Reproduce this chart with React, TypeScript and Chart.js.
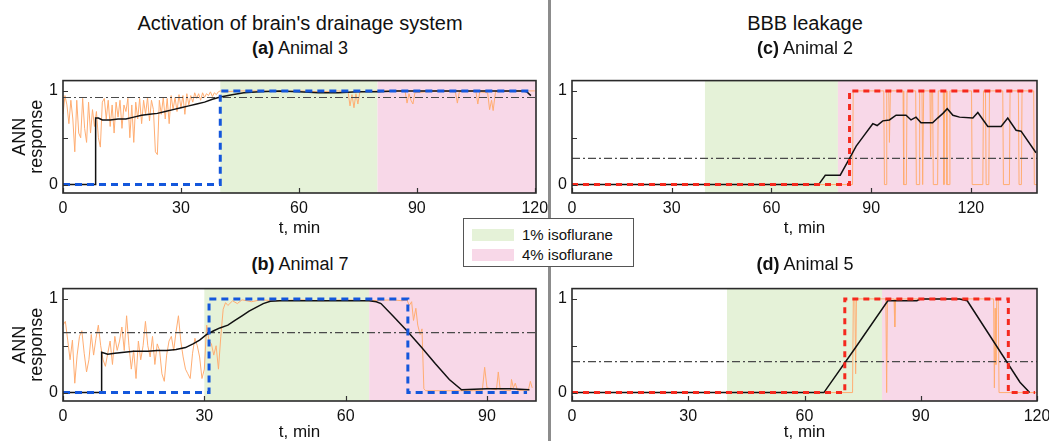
import React, { useEffect, useRef } from "react";
import { Chart, registerables } from "chart.js";

Chart.register(...registerables);

const FONT = "'Liberation Sans', Arial, sans-serif";
Chart.defaults.font.family = FONT;
Chart.defaults.color = "#111";

// ---------- shared ----------
const xTicks = [0, 30, 60, 90, 120];
const yTicks = [0, 0.5, 1];
const yLabelValues = [0, 1];
const Y_MIN = -0.09;
const Y_MAX = 1.11;
const RAW_DT = 0.5;

const GREEN = "#e5f2d8";
const PINK = "#f8d8e8";
const ORANGE = "#ffad72";
const BLACK = "#111111";
const THRESH = "#4a4a4a";
const BLUE = "#1457dc";
const RED = "#f5291e";

const legendLabels = ["1% isoflurane", "4% isoflurane"];
const legendColors = [GREEN, PINK];

// ---------- panel (a) Animal 3 ----------
const aXMax = 120.3;
const aIso1 = [40, 80];
const aIso4 = [80, 121];
const aThreshold = 0.93;
const aStep: number[][] = [[0, 0], [40, 0], [40, 1], [119, 1]];
const aSmooth: number[][] = [
  [0, 0], [8.3, 0], [8.3, 0.71], [9, 0.71], [10, 0.69], [12, 0.69], [14, 0.7], [16, 0.7],
  [18, 0.72], [20, 0.74], [22, 0.75], [24, 0.76], [26, 0.78], [28, 0.8], [30, 0.82],
  [32, 0.84], [34, 0.86], [36, 0.88], [38, 0.91], [40, 0.935], [43, 0.96], [46, 0.98],
  [50, 0.99], [55, 1.0], [60, 0.99], [65, 0.98], [70, 0.98], [75, 0.99], [80, 0.99],
  [85, 1.0], [100, 1.0], [117, 1.0], [118, 0.99], [119, 0.95],
];
const aRawHead = [
  0.75, 0.95, 0.85, 0.65, 0.9, 0.7, 0.35, 0.9, 0.55, 0.5,
  0.92, 0.6, 0.45, 0.88, 0.55, 0.8, 0.62, 0.78, 0.5, 0.4,
  0.88, 0.92, 0.7, 0.9, 0.62, 0.85, 0.55, 0.88, 0.72, 0.9,
  0.6, 0.85, 0.78, 0.92, 0.5, 0.85, 0.45, 0.88, 0.7, 0.92,
  0.65, 0.9, 0.75, 0.93, 0.68, 0.9, 0.8, 0.35, 0.32, 0.9,
  0.75, 0.93, 0.7, 0.92, 0.65, 0.95, 0.8, 0.93, 0.78, 0.96,
  0.82, 0.95, 0.75, 0.97, 0.85, 0.95, 0.88, 0.98, 0.92, 0.97,
  0.9, 0.98, 0.93, 0.97, 0.95, 0.99, 0.94, 0.98, 0.96, 0.99, 1.0,
];
const aRawTail: number[][] = [
  [41, 0.99], [45, 1.0], [50, 1.0], [55, 0.99], [60, 1.0], [65, 0.99], [70, 1.0], [72.5, 0.99],
  [73, 0.84], [73.5, 0.96], [74, 0.82], [74.5, 0.97], [75, 0.86], [75.5, 0.99], [80, 1.0],
  [87, 1.0], [87.5, 0.87], [88, 0.97], [88.5, 0.9], [89, 0.86], [89.5, 0.98], [95, 1.0],
  [99.8, 0.99], [100.3, 0.87], [100.8, 0.99], [105, 1.0], [105.5, 0.86], [106, 0.99],
  [108, 0.98], [108.5, 0.8], [109, 0.9], [109.4, 0.79], [110, 0.99], [115, 1.0], [120, 1.0],
];

// ---------- panel (b) Animal 7 ----------
const bXMax = 100.4;
const bIso1 = [30, 65];
const bIso4 = [65, 101];
const bThreshold = 0.64;
const bStep: number[][] = [[0, 0], [31, 0], [31, 1], [73.2, 1], [73.2, 0], [98.5, 0]];
const bSmooth: number[][] = [
  [0, 0], [8.2, 0], [8.2, 0.43], [9.5, 0.41], [11, 0.42], [13, 0.43], [15, 0.44], [18, 0.44],
  [20, 0.45], [22, 0.45], [24, 0.46], [26, 0.48], [27.6, 0.52], [29, 0.56], [30.5, 0.62],
  [32, 0.66], [33.3, 0.69], [35, 0.72], [36.5, 0.77], [38, 0.82], [39.5, 0.87], [41, 0.91],
  [42.5, 0.95], [44, 0.975], [46, 0.98], [65, 0.98], [66.5, 0.97], [67.5, 0.95], [70, 0.82],
  [73, 0.66], [76, 0.49], [79, 0.31], [82, 0.14], [84.6, 0.03], [90, 0.04], [95, 0.04], [99, 0.03],
];
const bRawHead = [
  0.72, 0.76, 0.56, 0.35, 0.56, 0.1, 0.4, 0.6, 0.66, 0.42,
  0.22, 0.35, 0.62, 0.4, 0.58, 0.72, 0.5, 0.35, 0.28, 0.42,
  0.55, 0.3, 0.6, 0.45, 0.55, 0.7, 0.45, 0.82, 0.5, 0.25,
  0.45, 0.15, 0.55, 0.35, 0.5, 0.76, 0.5, 0.38, 0.6, 0.3,
  0.52, 0.45, 0.2, 0.12, 0.4, 0.55, 0.6, 0.45, 0.65, 0.82,
  0.55, 0.38, 0.25, 0.2, 0.15, 0.42, 0.58, 0.5, 0.38, 0.15,
  0.25, 0.72, 0.55, 0.52, 0.4, 0.5, 0.25, 0.6, 0.89,
];
const bRawTail: number[][] = [
  [34.5, 0.96], [35, 0.93], [36, 0.98], [37, 0.95], [38, 0.99], [40, 0.97], [42, 0.99],
  [45, 0.98], [50, 0.99], [55, 0.98], [60, 0.99], [65, 0.98], [70, 0.99], [72, 0.98],
  [73, 0.99], [73.5, 0.93], [74, 0.97], [74.4, 0.77], [74.9, 0.9], [75.3, 0.72], [75.8, 0.62],
  [76.2, 0.68], [76.6, 0.04], [77, 0.02], [80, 0.02], [85, 0.02], [89, 0.02], [89.5, 0.27],
  [90, 0.05], [92, 0.03], [92.4, 0.22], [92.8, 0.03], [95, 0.02], [95.2, 0.14], [95.6, 0.05],
  [96, 0.1], [96.5, 0.02], [98.8, 0.03], [99.2, 0.12], [99.6, 0.05],
];

// ---------- panel (c) Animal 2 ----------
const cXMax = 139.9;
const cIso1 = [40, 80];
const cIso4 = [80, 141];
const cThreshold = 0.28;
const cStep: number[][] = [[0, 0], [83.5, 0], [83.5, 1], [138.5, 1]];
const cSmooth: number[][] = [
  [0, 0], [74.2, 0], [76.2, 0.1], [80.7, 0.1], [83.5, 0.28], [85.5, 0.41], [88, 0.53],
  [90.5, 0.65], [91.8, 0.63], [93.5, 0.68], [95.5, 0.69], [97.5, 0.74], [100.5, 0.74],
  [102, 0.69], [103.5, 0.72], [105, 0.66], [108.5, 0.66], [110, 0.71], [111.6, 0.76],
  [112.9, 0.81], [114.6, 0.74], [116.6, 0.72], [120.6, 0.71], [122.1, 0.77], [125.1, 0.62],
  [129.1, 0.62], [131.1, 0.71], [133.6, 0.58], [135.1, 0.57], [139.6, 0.34],
];
const cRaw: number[][] = [
  [0, 0], [84.4, 0], [84.6, 1], [93.8, 1], [94, 0], [94.5, 0], [94.7, 1], [95.3, 1],
  [95.5, 0.45], [95.8, 1], [99.6, 1], [99.8, 0], [100.6, 0], [100.8, 1], [103.4, 1],
  [103.6, 0], [104.4, 0], [104.6, 1], [105.3, 1], [105.5, 0], [105.8, 1], [107.7, 1],
  [107.9, 0.3], [108.1, 1], [108.5, 1], [108.7, 0], [110, 0], [110.2, 1], [111.7, 1],
  [111.9, 0], [112.1, 1], [112.6, 1], [112.8, 0], [113.5, 0], [113.7, 1], [120.2, 1],
  [120.4, 0], [123.6, 0], [123.8, 1], [124.4, 1], [124.6, 0], [125.4, 0], [125.6, 1],
  [129.6, 1], [129.8, 0], [131.6, 0], [131.8, 1], [134.3, 1], [134.5, 0], [135.2, 0],
  [135.4, 1], [138.9, 1], [139.1, 0], [139.9, 0],
];

// ---------- panel (d) Animal 5 ----------
const dXMax = 120;
const dIso1 = [40, 80];
const dIso4 = [80, 121];
const dThreshold = 0.33;
const dStep: number[][] = [[0, 0], [70.4, 0], [70.4, 1], [112.6, 1], [112.6, 0], [119.5, 0]];
const dSmooth: number[][] = [
  [0, 0], [65, 0], [73, 0.47], [81.5, 0.98], [89, 0.98], [90, 1.0], [100, 1.0], [102, 0.98],
  [115.6, 0.11], [118.1, 0],
];
const dRaw: number[][] = [
  [0, 0], [72.4, 0], [72.6, 1], [73.0, 1], [73.2, 0.2], [73.4, 1], [81, 1], [81.2, 0],
  [81.4, 1], [83.1, 1], [83.3, 0.7], [83.5, 1], [108.8, 1], [109, 0.05], [109.2, 0.9],
  [109.4, 0.3], [109.6, 1], [110, 1], [110.2, 0], [120, 0],
];

// ---------- helpers ----------
const pts = (arr: number[][]) => arr.map(([x, y]) => ({ x, y }));
const dense = (vals: number[], dt: number) => vals.map((y, i) => ({ x: i * dt, y }));

const decor = {
  id: "decor",
  beforeDatasetsDraw(chart: any, _a: any, opts: any) {
    const { ctx, chartArea: ca, scales } = chart;
    const x = scales.x;
    ctx.save();
    for (const r of opts.regions || []) {
      const x0 = Math.max(ca.left, x.getPixelForValue(r.from));
      const x1 = Math.min(ca.right, x.getPixelForValue(r.to));
      ctx.fillStyle = r.color;
      ctx.fillRect(x0, ca.top, x1 - x0, ca.bottom - ca.top);
    }
    ctx.restore();
  },
  afterDatasetsDraw(chart: any) {
    const { ctx, chartArea: ca, scales } = chart;
    ctx.save();
    ctx.strokeStyle = "#333";
    ctx.lineWidth = 1.2;
    ctx.beginPath();
    for (const t of scales.x.ticks) {
      const px = Math.round(scales.x.getPixelForValue(t.value)) + 0.5;
      ctx.moveTo(px, ca.bottom);
      ctx.lineTo(px, ca.bottom - 5);
    }
    for (const t of scales.y.ticks) {
      const py = Math.round(scales.y.getPixelForValue(t.value)) + 0.5;
      ctx.moveTo(ca.left, py);
      ctx.lineTo(ca.left + 5, py);
    }
    ctx.stroke();
    ctx.lineWidth = 1.6;
    ctx.strokeStyle = "#2a2a2a";
    ctx.strokeRect(ca.left, ca.top, ca.right - ca.left, ca.bottom - ca.top);
    ctx.restore();
  },
};

type PanelCfg = {
  width: number;
  height: number;
  xAxisHeight: number;
  xTitlePad: number;
  yAxisWidth: number;
  xMax: number;
  iso1: number[];
  iso4: number[];
  threshold: number;
  step: { x: number; y: number }[];
  stepColor: string;
  stepDash: number[];
  smooth: { x: number; y: number }[];
  raw: { x: number; y: number }[];
  yTitle: boolean;
};

function Panel({ cfg, left, top }: { cfg: PanelCfg; left: number; top: number }) {
  const ref = useRef<HTMLCanvasElement>(null);
  useEffect(() => {
    const chart = new Chart(ref.current as HTMLCanvasElement, {
      type: "line",
      data: {
        datasets: [
          {
            data: cfg.step,
            borderColor: cfg.stepColor,
            borderWidth: 3,
            borderDash: cfg.stepDash,
            pointRadius: 0,
            tension: 0,
          },
          {
            data: cfg.smooth,
            borderColor: BLACK,
            borderWidth: 1.5,
            pointRadius: 0,
            tension: 0,
          },
          {
            data: [
              { x: 0, y: cfg.threshold },
              { x: cfg.xMax, y: cfg.threshold },
            ],
            borderColor: THRESH,
            borderWidth: 1.1,
            borderDash: [8, 3, 2, 3],
            pointRadius: 0,
          },
          {
            data: cfg.raw,
            borderColor: ORANGE,
            borderWidth: 1,
            pointRadius: 0,
            tension: 0,
          },
        ],
      } as any,
      options: {
        animation: false,
        responsive: false,
        devicePixelRatio: 1,
        parsing: false,
        layout: { padding: { top: 9, right: 20, left: 0, bottom: 0 } },
        plugins: {
          legend: { display: false },
          tooltip: { enabled: false },
          decor: {
            regions: [
              { from: cfg.iso1[0], to: cfg.iso1[1], color: GREEN },
              { from: cfg.iso4[0], to: cfg.iso4[1], color: PINK },
            ],
          },
        } as any,
        scales: {
          x: {
            type: "linear",
            min: 0,
            max: cfg.xMax,
            afterBuildTicks: (s: any) => {
              s.ticks = xTicks.filter((v) => v <= cfg.xMax).map((v) => ({ value: v }));
            },
            afterFit: (s: any) => {
              s.height = cfg.xAxisHeight;
            },
            grid: { display: false, drawTicks: false },
            border: { display: false },
            ticks: {
              padding: 6,
              autoSkip: false,
              maxRotation: 0,
              color: "#111",
              font: { size: 16 },
              callback: (v: any) => String(v),
            },
            title: {
              display: true,
              text: "t, min",
              color: "#111",
              font: { size: 17, lineHeight: 1 },
              padding: { top: 0, bottom: cfg.xTitlePad },
            },
          },
          y: {
            type: "linear",
            min: Y_MIN,
            max: Y_MAX,
            afterBuildTicks: (s: any) => {
              s.ticks = yTicks.map((v) => ({ value: v }));
            },
            afterFit: (s: any) => {
              s.width = cfg.yAxisWidth;
            },
            grid: { display: false, drawTicks: false },
            border: { display: false },
            ticks: {
              padding: 5,
              color: "#111",
              font: { size: 16 },
              callback: (v: any) => (yLabelValues.includes(v) ? String(v) : ""),
            },
            title: {
              display: cfg.yTitle,
              text: ["ANN", "response"],
              color: "#111",
              font: { size: 18, lineHeight: 0.92 },
              padding: { top: 12, bottom: 0 },
            },
          },
        },
      } as any,
      plugins: [decor],
    });
    return () => chart.destroy();
  }, []);
  return (
    <div style={{ position: "absolute", left, top, width: cfg.width, height: cfg.height }}>
      <canvas
        ref={ref}
        width={cfg.width}
        height={cfg.height}
        style={{ width: cfg.width, height: cfg.height, display: "block" }}
      />
    </div>
  );
}

const panelA: PanelCfg = {
  width: 556, height: 172, xAxisHeight: 45, xTitlePad: 1.5, yAxisWidth: 63, xMax: aXMax,
  iso1: aIso1, iso4: aIso4, threshold: aThreshold, step: pts(aStep), stepColor: BLUE,
  stepDash: [7, 5], smooth: pts(aSmooth), raw: dense(aRawHead, RAW_DT).concat(pts(aRawTail)),
  yTitle: true,
};
const panelB: PanelCfg = {
  width: 556, height: 167, xAxisHeight: 40, xTitlePad: 0, yAxisWidth: 63, xMax: bXMax,
  iso1: bIso1, iso4: bIso4, threshold: bThreshold, step: pts(bStep), stepColor: BLUE,
  stepDash: [7, 5], smooth: pts(bSmooth), raw: dense(bRawHead, RAW_DT).concat(pts(bRawTail)),
  yTitle: true,
};
const panelC: PanelCfg = {
  width: 517, height: 172, xAxisHeight: 45, xTitlePad: 1.5, yAxisWidth: 32, xMax: cXMax,
  iso1: cIso1, iso4: cIso4, threshold: cThreshold, step: pts(cStep), stepColor: RED,
  stepDash: [6, 5], smooth: pts(cSmooth), raw: pts(cRaw), yTitle: false,
};
const panelD: PanelCfg = {
  width: 517, height: 167, xAxisHeight: 40, xTitlePad: 0, yAxisWidth: 32, xMax: dXMax,
  iso1: dIso1, iso4: dIso4, threshold: dThreshold, step: pts(dStep), stepColor: RED,
  stepDash: [6, 5], smooth: pts(dSmooth), raw: pts(dRaw), yTitle: false,
};

function Title({ cx, cy, size, children }: { cx: number; cy: number; size: number; children: any }) {
  return (
    <div
      style={{
        position: "absolute",
        left: cx - 250,
        top: cy - size / 2,
        width: 500,
        height: size,
        lineHeight: `${size}px`,
        fontSize: size,
        textAlign: "center",
        color: "#111",
        whiteSpace: "nowrap",
      }}
    >
      {children}
    </div>
  );
}

export default function App() {
  return (
    <div
      style={{
        position: "fixed",
        left: 0,
        top: 0,
        width: 1049,
        height: 441,
        overflow: "hidden",
        background: "#fff",
        fontFamily: FONT,
      }}
    >
      <div style={{ position: "absolute", left: 548, top: 0, width: 3, height: 441, background: "#8c8c8c" }} />
      <Panel cfg={panelA} left={0} top={66} />
      <Panel cfg={panelB} left={0} top={274} />
      <Panel cfg={panelC} left={540} top={66} />
      <Panel cfg={panelD} left={540} top={274} />

      <Title cx={300} cy={23} size={20}>Activation of brain's drainage system</Title>
      <Title cx={805} cy={23} size={20}>BBB leakage</Title>
      <Title cx={300} cy={48} size={18}><b>(a)</b> Animal 3</Title>
      <Title cx={300} cy={264} size={18}><b>(b)</b> Animal 7</Title>
      <Title cx={805} cy={48} size={18}><b>(c)</b> Animal 2</Title>
      <Title cx={805} cy={264} size={18}><b>(d)</b> Animal 5</Title>

      <div
        style={{
          position: "absolute",
          left: 463,
          top: 218,
          width: 171,
          height: 49,
          border: "1px solid #555",
          background: "#fff",
          boxSizing: "border-box",
        }}
      >
        {legendLabels.map((label, i) => (
          <div key={label} style={{ position: "absolute", left: 0, top: 9 + i * 20, height: 14, width: 169 }}>
            <div
              style={{
                position: "absolute",
                left: 8,
                top: 1,
                width: 42,
                height: 12,
                background: legendColors[i],
              }}
            />
            <div
              style={{
                position: "absolute",
                left: 58,
                top: -1,
                fontSize: 15,
                lineHeight: "16px",
                color: "#111",
                whiteSpace: "nowrap",
              }}
            >
              {label}
            </div>
          </div>
        ))}
      </div>
    </div>
  );
}
